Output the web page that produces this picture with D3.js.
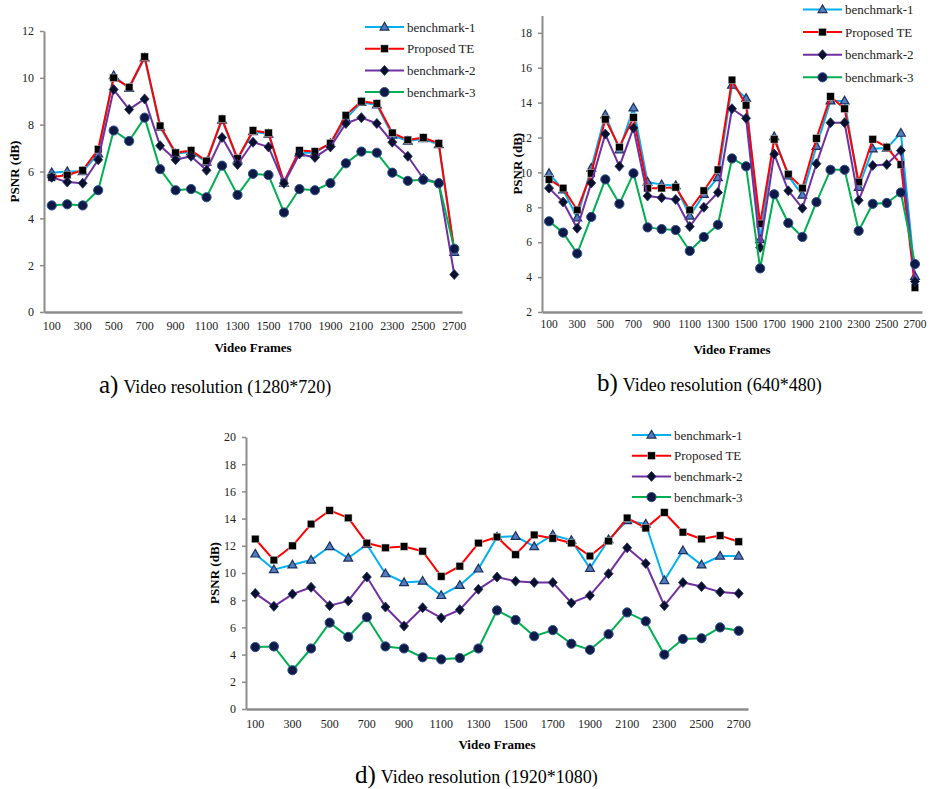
<!DOCTYPE html>
<html>
<head>
<meta charset="utf-8">
<script src="https://cdn.jsdelivr.net/npm/d3@7"></script>
<style>
  body { margin: 0; background: #fff; }
  svg text { font-family: "Liberation Serif", "Times New Roman", serif !important; }
</style>
</head>
<body>
<svg id="vis"></svg>
<script>
// Datos
const FRAMES = [100, 200, 300, 400, 500, 600, 700, 800, 900, 1000, 1100, 1200, 1300, 1400,
    1500, 1600, 1700, 1800, 1900, 2000, 2100, 2200, 2300, 2400, 2500, 2600, 2700];
const SERIES_NAMES = ["benchmark-1", "Proposed TE", "benchmark-2", "benchmark-3"];

// a) 1280*720
const A_BENCH1 = [5.95, 6.0, 6.0, 6.75, 10.1, 9.55, 10.85, 7.9, 6.75, 6.85, 6.4, 8.2, 6.5, 7.7, 7.6, 5.5, 6.8, 6.8, 7.2, 8.25, 8.95, 8.85, 7.55, 7.3, 7.4, 7.15, 2.55];
const A_TE = [5.75, 5.85, 6.05, 6.95, 10.0, 9.6, 10.9, 7.95, 6.8, 6.9, 6.45, 8.25, 6.55, 7.75, 7.65, 5.55, 6.9, 6.85, 7.2, 8.4, 9.0, 8.9, 7.65, 7.35, 7.45, 7.2, 2.65];
const A_BENCH2 = [5.75, 5.55, 5.5, 6.5, 9.5, 8.65, 9.1, 7.1, 6.5, 6.65, 6.05, 7.45, 6.3, 7.25, 7.05, 5.5, 6.75, 6.6, 7.05, 8.05, 8.3, 8.05, 7.25, 6.65, 5.7, 5.5, 1.6];
const A_BENCH3 = [4.55, 4.6, 4.55, 5.2, 7.75, 7.3, 8.3, 6.1, 5.2, 5.25, 4.9, 6.25, 5.0, 5.9, 5.85, 4.25, 5.25, 5.2, 5.5, 6.35, 6.85, 6.8, 5.95, 5.6, 5.65, 5.5, 2.7];

// b) 640*480
const B_BENCH1 = [9.95, 9.0, 7.4, 10.25, 13.3, 11.3, 13.7, 9.45, 9.3, 9.25, 7.5, 8.75, 9.7, 15.0, 14.25, 6.15, 12.05, 9.8, 8.7, 11.5, 14.1, 14.1, 9.15, 11.35, 11.4, 12.25, 4.05];
const B_TE = [9.6, 9.1, 7.85, 9.95, 13.05, 11.45, 13.15, 9.1, 9.1, 9.15, 7.85, 8.95, 10.15, 15.3, 13.85, 7.05, 11.9, 9.9, 9.1, 11.95, 14.35, 13.65, 9.45, 11.9, 11.45, 10.45, 3.4];
const B_BENCH2 = [9.1, 8.3, 6.8, 9.4, 12.2, 10.35, 12.55, 8.65, 8.55, 8.45, 6.9, 8.0, 8.85, 13.65, 13.1, 5.7, 11.05, 8.95, 7.95, 10.5, 12.85, 12.85, 8.4, 10.4, 10.45, 11.25, 3.75];
const B_BENCH3 = [7.2, 6.55, 5.35, 7.45, 9.6, 8.2, 9.95, 6.85, 6.75, 6.7, 5.5, 6.3, 7.0, 10.8, 10.35, 4.5, 8.75, 7.1, 6.3, 8.3, 10.15, 10.15, 6.65, 8.2, 8.25, 8.85, 4.75];

// d) 1920*1080
const D_BENCH1 = [11.4, 10.25, 10.6, 10.95, 11.95, 11.1, 12.1, 9.95, 9.3, 9.4, 8.35, 9.1, 10.3, 12.65, 12.7, 11.95, 12.8, 12.4, 10.35, 12.45, 13.85, 13.6, 9.45, 11.65, 10.6, 11.25, 11.25];
const D_TE = [12.5, 10.95, 12.0, 13.6, 14.6, 14.05, 12.2, 11.85, 11.95, 11.6, 9.75, 10.5, 12.2, 12.65, 11.35, 12.8, 12.55, 12.2, 11.25, 12.35, 14.05, 13.3, 14.45, 13.0, 12.5, 12.75, 12.3];
const D_BENCH2 = [8.5, 7.55, 8.45, 8.95, 7.6, 7.95, 9.7, 7.5, 6.1, 7.45, 6.7, 7.3, 8.8, 9.7, 9.4, 9.3, 9.3, 7.8, 8.35, 9.95, 11.85, 10.7, 7.6, 9.3, 9.0, 8.6, 8.5];
const D_BENCH3 = [4.55, 4.6, 2.85, 4.45, 6.35, 5.3, 6.75, 4.6, 4.45, 3.8, 3.65, 3.75, 4.45, 7.25, 6.55, 5.35, 5.8, 4.8, 4.35, 5.5, 7.1, 6.45, 4.0, 5.15, 5.2, 6.0, 5.75];

const WIDTH = 931;
const HEIGHT = 789;
const FONT = "'Liberation Serif', 'Times New Roman', serif";

const COLORS = ["#00b0f0", "#ff0000", "#7030a0", "#00b050"];
const MARKERS = ["triangle", "square", "diamond", "circle"];
const AXIS_COLOR = "#8c8c8c";

const svg = d3.select("#vis")
    .attr("width", WIDTH)
    .attr("height", HEIGHT)
    .style("font-family", FONT);

function drawMarker(g, tipo, x, y) {
    if (tipo === "triangle") {
        g.append("path")
            .attr("d", d3.symbol(d3.symbolTriangle, 34)())
            .attr("transform", `translate(${x}, ${y + 0.5})`)
            .attr("fill", "#4f7fc0")
            .attr("stroke", "#1c2f5e")
            .attr("stroke-width", 1.2);
    } else if (tipo === "square") {
        g.append("rect")
            .attr("x", x - 3.8).attr("y", y - 3.8)
            .attr("width", 7.6).attr("height", 7.6)
            .attr("fill", "#000")
            .attr("stroke", "#ddd")
            .attr("stroke-width", 0.5);
    } else if (tipo === "diamond") {
        g.append("path")
            .attr("d", `M0,-5L4.5,0L0,5L-4.5,0Z`)
            .attr("transform", `translate(${x}, ${y})`)
            .attr("fill", "#0a0f2e")
            .attr("stroke", "#1c2f5e")
            .attr("stroke-width", 0.8);
    } else {
        g.append("circle")
            .attr("cx", x).attr("cy", y).attr("r", 4.6)
            .attr("fill", "#0e1a45")
            .attr("stroke", "#2e4f8f")
            .attr("stroke-width", 1);
    }
}

function drawChart(conf) {
    const escalaX = d3.scaleBand()
        .domain(FRAMES)
        .range([conf.left, conf.right]);
    const escalaY = d3.scaleLinear()
        .domain(conf.yDomain)
        .range([conf.bottom, conf.top]);

    // Eje Y
    const ejeY = svg.append("g")
        .attr("transform", `translate(${conf.left}, 0)`)
        .call(d3.axisLeft(escalaY).tickValues(conf.yTicks).tickSize(4).tickSizeOuter(0).tickPadding(6));
    ejeY.attr("font-family", null);
    ejeY.select(".domain").attr("stroke", AXIS_COLOR).attr("stroke-width", 2);
    ejeY.selectAll(".tick line").attr("stroke", AXIS_COLOR).attr("stroke-width", 1.5);
    ejeY.selectAll(".tick text")
        .style("font-family", FONT)
        .attr("font-size", conf.fontSize)
        .attr("fill", "#222");

    // Eje X
    const ejeX = svg.append("g")
        .attr("transform", `translate(0, ${conf.bottom})`)
        .call(d3.axisBottom(escalaX)
            .tickValues(FRAMES.filter((d, i) => i % 2 === 0))
            .tickSize(0).tickPadding(conf.xPad));
    ejeX.attr("font-family", null);
    ejeX.select(".domain").attr("stroke", AXIS_COLOR).attr("stroke-width", 2.5);
    ejeX.selectAll(".tick text")
        .style("font-family", FONT)
        .attr("font-size", conf.fontSize)
        .attr("fill", "#222");

    const cx = (d) => escalaX(d) + escalaX.bandwidth() / 2;

    // Lineas
    const linea = d3.line()
        .x((d, i) => cx(FRAMES[i]))
        .y((d) => escalaY(d));

    conf.series.forEach((valores, k) => {
        svg.append("path")
            .datum(valores)
            .attr("fill", "none")
            .attr("stroke", COLORS[k])
            .attr("stroke-width", 2)
            .attr("stroke-linejoin", "round")
            .attr("d", linea);
        const gm = svg.append("g");
        valores.forEach((v, i) => drawMarker(gm, MARKERS[k], cx(FRAMES[i]), escalaY(v)));
    });

    // Leyenda
    SERIES_NAMES.forEach((nombre, k) => {
        const y = conf.legY + k * conf.legStep;
        svg.append("line")
            .attr("x1", conf.legX).attr("x2", conf.legX + 39)
            .attr("y1", y).attr("y2", y)
            .attr("stroke", COLORS[k])
            .attr("stroke-width", 2);
        drawMarker(svg, MARKERS[k], conf.legX + 19.5, y);
        svg.append("text")
            .attr("x", conf.legX + 42)
            .attr("y", y + 4.5)
            .attr("font-size", 13)
            .attr("fill", "#222")
            .text(nombre);
    });

    // Nombres de ejes
    svg.append("text")
        .attr("transform", `translate(${conf.yLabelX}, ${(conf.top + conf.bottom) / 2}) rotate(-90)`)
        .attr("text-anchor", "middle")
        .attr("font-weight", "bold")
        .attr("font-size", 13)
        .text("PSNR (dB)");

    svg.append("text")
        .attr("x", (conf.left + conf.right) / 2)
        .attr("y", conf.xTitleY)
        .attr("text-anchor", "middle")
        .attr("font-weight", "bold")
        .attr("font-size", 13)
        .text("Video Frames");

    // Pie de figura
    const pie = svg.append("text")
        .attr("x", conf.capX)
        .attr("y", conf.capY);
    pie.append("tspan")
        .attr("font-size", 25)
        .text(conf.capLetter);
    pie.append("tspan")
        .attr("font-size", 18)
        .attr("dx", 5)
        .text(conf.capText);
}

drawChart({
    left: 44, right: 462, top: 31, bottom: 312,
    yDomain: [0, 12], yTicks: [0, 2, 4, 6, 8, 10, 12],
    series: [A_BENCH1, A_TE, A_BENCH2, A_BENCH3],
    fontSize: 12, xPad: 9,
    legX: 365, legY: 27, legStep: 21.7,
    yLabelX: 19, xTitleY: 352,
    capX: 99, capY: 393, capLetter: "a)", capText: "Video resolution (1280*720)"
});

drawChart({
    left: 542, right: 922, top: 15.4, bottom: 312,
    yDomain: [2, 19], yTicks: [2, 4, 6, 8, 10, 12, 14, 16, 18],
    series: [B_BENCH1, B_TE, B_BENCH2, B_BENCH3],
    fontSize: 11.5, xPad: 8,
    legX: 803, legY: 9.5, legStep: 22.6,
    yLabelX: 522, xTitleY: 354,
    capX: 597, capY: 391, capLetter: "b)", capText: "Video resolution (640*480)"
});

drawChart({
    left: 246, right: 748, top: 437, bottom: 709,
    yDomain: [0, 20], yTicks: [0, 2, 4, 6, 8, 10, 12, 14, 16, 18, 20],
    series: [D_BENCH1, D_TE, D_BENCH2, D_BENCH3],
    fontSize: 12, xPad: 10,
    legX: 632, legY: 435, legStep: 20.7,
    yLabelX: 219, xTitleY: 749,
    capX: 355, capY: 783, capLetter: "d)", capText: "Video resolution (1920*1080)"
});
</script>
</body>
</html>
